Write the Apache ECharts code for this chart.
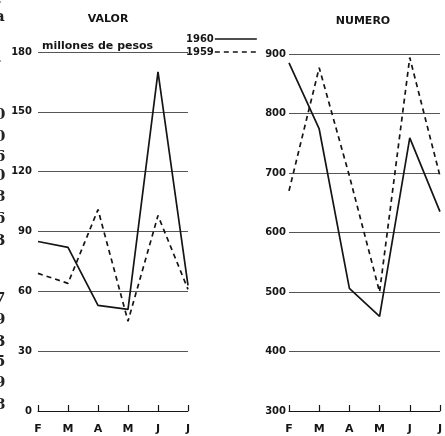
<!DOCTYPE html>
<html>
<head>
<meta charset="utf-8">
<script src="https://cdn.jsdelivr.net/npm/echarts@6/dist/echarts.min.js"></script>
<style>
html,body{margin:0;padding:0;background:#fff;}
#c{width:445px;height:436px;}
</style>
</head>
<body>
<div id="c"></div>
<script>
var months = ['F', 'M', 'A', 'M', 'J', 'J'];
var valor1960 = [85, 82, 53, 51, 170, 63];
var valor1959 = [69, 64, 101, 45, 98, 61];
var numero1960 = [885, 774, 506, 459, 759, 635];
var numero1959 = [670, 877, 695, 500, 894, 695];
var valorTicks = {min: 0, max: 180, interval: 30};
var numeroTicks = {min: 300, max: 900, interval: 100};
var edgeChars = ['-', 'a', '-', '0', '0', '6', '0', '8', '6', '3', '7', '9', '3', '5', '9', '8'];
var edgeY = [3, 18, 62, 116, 138, 158, 177, 198, 220, 242, 300, 321, 343, 363, 384, 406];

var ink = '#151515';
var font = 'DejaVu Sans';

function xAxis(idx) {
  return {
    type: 'category', gridIndex: idx, data: months, boundaryGap: false,
    axisLine: {show: true, lineStyle: {color: ink, width: 1}},
    axisTick: {show: true, inside: true, length: 6, alignWithLabel: true, lineStyle: {color: ink, width: 1.2}},
    axisLabel: {color: ink, fontFamily: font, fontWeight: 'bold', fontSize: 11, margin: 13},
    splitLine: {show: false}
  };
}
function yAxis(idx, t, margin) {
  return {
    type: 'value', gridIndex: idx, min: t.min, max: t.max, interval: t.interval,
    axisLine: {show: false}, axisTick: {show: false},
    axisLabel: {color: ink, fontFamily: font, fontWeight: 'bold', fontSize: 10, margin: margin},
    splitLine: {show: true, lineStyle: {color: '#555', width: 1}}
  };
}
function line(name, data, idx, dashed) {
  return {
    name: name, type: 'line', xAxisIndex: idx, yAxisIndex: idx, data: data,
    symbol: 'none', silent: true, animation: false,
    lineStyle: {color: ink, width: 1.7, type: dashed ? [5, 4] : 'solid'},
    itemStyle: {color: ink}
  };
}

var graphics = [
  {type: 'text', left: 42, top: 41, style: {text: 'millones de pesos', font: 'bold 11px "DejaVu Sans"', fill: ink}}
];
for (var i = 0; i < edgeChars.length; i++) {
  graphics.push({type: 'text', left: -5, top: edgeY[i] - 8, style: {text: edgeChars[i], font: 'bold 15px "DejaVu Serif"', fill: '#222'}});
}

var chart = echarts.init(document.getElementById('c'), null, {renderer: 'canvas'});
chart.setOption({
  backgroundColor: '#fff',
  animation: false,
  title: [
    {text: 'VALOR', left: 103, top: 9, textAlign: 'center', textStyle: {fontFamily: font, fontWeight: 'bold', fontSize: 11, color: ink}},
    {text: 'NUMERO', left: 358, top: 11, textAlign: 'center', textStyle: {fontFamily: font, fontWeight: 'bold', fontSize: 11, color: ink}}
  ],
  legend: {
    orient: 'vertical', left: 181, top: 29, itemGap: 3, itemWidth: 42, itemHeight: 8, align: 'right',
    data: ['1960', '1959'], selectedMode: false,
    itemStyle: {opacity: 0, borderWidth: 0},
    lineStyle: {width: 1.4},
    textStyle: {fontFamily: font, fontWeight: 'bold', fontSize: 10, color: ink, padding: [0, -4, 0, 0]}
  },
  grid: [
    {left: 38, top: 52, width: 150, height: 359},
    {left: 289, top: 54, width: 152, height: 357}
  ],
  xAxis: [xAxis(0), xAxis(1)],
  yAxis: [yAxis(0, valorTicks, 6), yAxis(1, numeroTicks, 3)],
  series: [
    line('1960', valor1960, 0, false),
    line('1959', valor1959, 0, true),
    line('1960', numero1960, 1, false),
    line('1959', numero1959, 1, true)
  ],
  graphic: graphics
});
</script>
</body>
</html>
